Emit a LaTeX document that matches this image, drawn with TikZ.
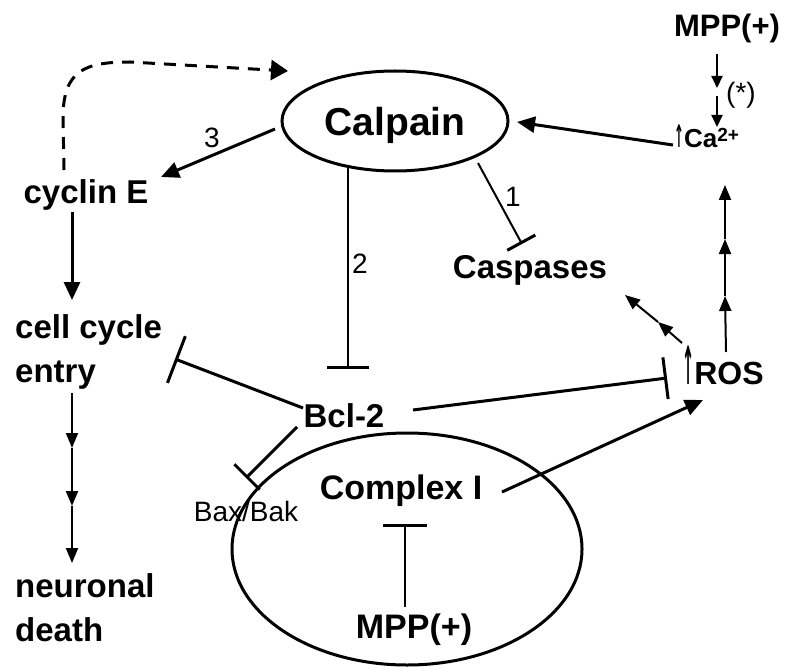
\documentclass[tikz,border=0pt]{standalone}
\usepackage{fontspec}
\setmainfont{Liberation Sans}
\newfontfamily\arrowfont{DejaVu Sans}
\usetikzlibrary{arrows.meta,shapes.geometric}
\tikzset{
  lbl/.style={inner sep=0pt, font=\bfseries\fontsize{33}{44}\selectfont},
  reg/.style={inner sep=0pt, font=\fontsize{28}{32}\selectfont},
  arr/.style={line width=3pt, -{Triangle[length=18pt,width=16pt]}},
  smarr/.style={line width=2pt, -{Triangle[length=15pt,width=12pt]}},
  tinyarr/.style={line width=2pt, -{Triangle[length=12pt,width=11pt]}},
  inh/.style={line width=3pt, -{Bar[width=44pt,line width=3pt]}},
  thininh/.style={line width=2pt, -{Bar[width=42pt,line width=3pt]}},
  ring/.style={ellipse, draw, line width=3pt, inner sep=0pt},
}
\begin{document}
\begin{tikzpicture}[x=1pt,y=-1pt]
\path[use as bounding box] (0,0) rectangle (786,668);

% nodes
\node[ring, minimum width=226pt, minimum height=100pt, text depth=0pt,
      font=\bfseries\fontsize{39}{46}\selectfont] (calpain) at (395,121) {Calpain};
\node[ring, minimum width=350pt, minimum height=232pt] (cplx) at (407,549) {};
\node[lbl, anchor=base] (cyclin) at (86,204) {cyclin E};
\node[lbl, anchor=north west, align=left] (cell) at (15,314) {cell cycle\\entry};
\node[lbl, anchor=north west, align=left] (death) at (15,573) {neuronal\\death};
\node[lbl, anchor=base] (bcl) at (344,427) {Bcl-2};
\node[reg, anchor=base] (bax) at (246,521) {Bax/Bak};
\node[lbl, anchor=base, font=\bfseries\fontsize{34}{40}\selectfont] (ci) at (401,499) {Complex I};
\node[lbl, anchor=base, font=\bfseries\fontsize{34}{40}\selectfont] (mppb) at (414,638) {MPP(+)};
\node[lbl, anchor=base] (casp) at (530,278) {Caspases};
\node[lbl, anchor=base west, font=\bfseries\fontsize{32}{40}\selectfont] (ros) at (682,384)
  {\scalebox{0.45}[1.65]{\arrowfont\bfseries ↑}ROS};
\node[lbl, anchor=base west, font=\bfseries\fontsize{26}{32}\selectfont] (ca) at (674,148)
  {\scalebox{0.45}[1.2]{\arrowfont\bfseries ↑}Ca\raisebox{6pt}{\fontsize{19}{20}\selectfont 2+}};
\node[lbl, anchor=base, font=\bfseries\fontsize{31}{36}\selectfont] (mppt) at (727,37) {MPP(+)};

% labels
\node[reg, anchor=base] (n3) at (212,148) {3};
\node[reg, anchor=base] (n2) at (360,273) {2};
\node[reg, anchor=base] (n1) at (513,207) {1};
\node[reg, anchor=base] (star) at (741,103) {(*)};

% helper coordinates
\coordinate (m1) at (72,448);
\coordinate (m2) at (72,506);
\coordinate (r1) at (725,296);
\coordinate (r2) at (725,239);
\coordinate (rc) at (658,322);
\coordinate (mc1) at (717,88);
\coordinate (mc2) at (717,96);

% dashed feedback
\draw[line width=3pt, dash pattern=on 12pt off 9pt, -{Triangle[length=17pt,width=20pt]}]
  ([shift={(-22,-34)}]cyclin.base) -- (63,118)
  .. controls (63,70) and (85,62) .. (130,62)
  -- ([shift={(-107,-50)}]calpain.center);

% calpain -> cyclin E
\draw[arr] ([shift={(-120,8)}]calpain.center) -- ([shift={(75,-27)}]cyclin.base);
% cyclin E -> cell cycle
\draw[arr] ([shift={(-14,8)}]cyclin.base) -- ([shift={(57,-14)}]cell.north west);
% cell cycle -> neuronal death
\draw[smarr] ([shift={(57,79)}]cell.north west) -- (m1);
\draw[smarr] (m1) -- (m2);
\draw[smarr] (m2) -- ([shift={(57,-10)}]death.north west);

% calpain -| bcl-2
\draw[thininh] ([shift={(-47,47)}]calpain.center) -- ([shift={(4,-58)}]bcl.base);
% calpain -| caspases
\draw[thininh, -{Bar[width=32pt,line width=3pt]}] ([shift={(83,42)}]calpain.center) -- ([shift={(-8,-34)}]casp.base);

% bcl-2 inhibitions
\draw[inh, -{Bar[width=50pt,line width=3pt]}] ([shift={(-41,-19)}]bcl.base) -- ([shift={(160,45)}]cell.north west);
\draw[inh, -{Bar[width=36pt,line width=3pt]}] ([shift={(-47,0)}]bcl.base) -- ([shift={(0,-43)}]bax.base);
\draw[inh, -{Bar[width=42pt,line width=3pt]}] ([shift={(69,-17)}]bcl.base) -- ([shift={(-15,-6)}]ros.base west);

% MPP -| complex I
\draw[thininh, -{Bar[width=44pt,line width=3pt]}] ([shift={(-9,-31)}]mppb.base) -- ([shift={(4,25)}]ci.base);
% complex I -> ROS
\draw[arr] ([shift={(101,-7)}]ci.base) -- ([shift={(21,16)}]ros.base west);

% ROS -> caspases
\draw[smarr] ([shift={(0,-41)}]ros.base west) -- (rc);
\draw[smarr] (rc) -- ([shift={(95,17)}]casp.base);
% ROS -> Ca
\draw[smarr] ([shift={(44,-32)}]ros.base west) -- (r1);
\draw[smarr] (r1) -- (r2);
\draw[smarr] (r2) -- ([shift={(51,37)}]ca.base west);
% Ca -> calpain
\draw[arr] ([shift={(-1,-3)}]ca.base west) -- ([shift={(122,1)}]calpain.center);
% MPP -> Ca
\draw[tinyarr] ([shift={(-10,17)}]mppt.base) -- (mc1);
\draw[tinyarr] (mc2) -- ([shift={(43,-21)}]ca.base west);
\end{tikzpicture}
\end{document}
